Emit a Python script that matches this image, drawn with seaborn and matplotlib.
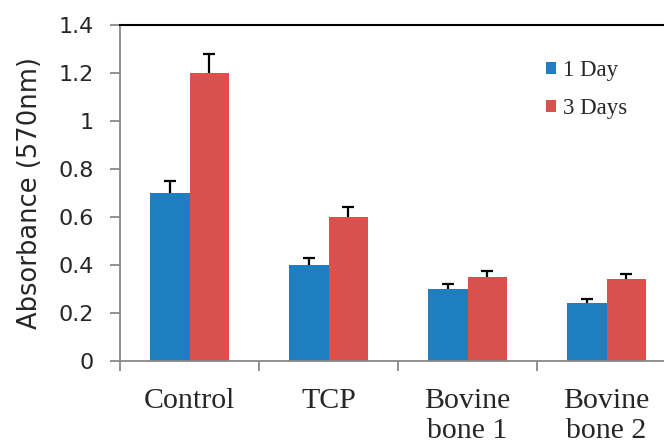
import matplotlib
matplotlib.use("Agg")
import matplotlib.pyplot as plt
import seaborn as sns
import pandas as pd
from matplotlib.patches import Patch

categories = ["Control", "TCP", "Bovine\nbone 1", "Bovine\nbone 2"]
series = ["1 Day", "3 Days"]
day1 = [0.70, 0.40, 0.30, 0.24]
day3 = [1.20, 0.60, 0.35, 0.34]
day1_err = [0.05, 0.03, 0.02, 0.02]
day3_err = [0.08, 0.04, 0.025, 0.022]
y_ticks = [0, 0.2, 0.4, 0.6, 0.8, 1.0, 1.2, 1.4]
y_tick_labels = ["0", "0.2", "0.4", "0.6", "0.8", "1", "1.2", "1.4"]

colors = {"1 Day": "#1F7EC0", "3 Days": "#DA504C"}

df = pd.DataFrame({
    "group": categories * 2,
    "time": [series[0]] * 4 + [series[1]] * 4,
    "value": day1 + day3,
})

sns.set_style("white")
fig = plt.figure(figsize=(6.64, 4.44), dpi=100)
ax = fig.add_axes([120 / 664, 83 / 444, 556 / 664, 336 / 444])

sns.barplot(data=df, x="group", y="value", hue="time", order=categories,
            hue_order=series, palette=colors, width=0.57, errorbar=None,
            saturation=1, edgecolor="none", ax=ax, legend=False)

# upper-only error bars on each bar
for container, errs in zip(ax.containers, [day1_err, day3_err]):
    for bar, e in zip(container, errs):
        xc = bar.get_x() + bar.get_width() / 2
        top = bar.get_height()
        _, caps, _ = ax.errorbar(xc, top, yerr=[[0], [e]], fmt="none",
                                 ecolor="black", elinewidth=1.6, capsize=4,
                                 capthick=1.6, zorder=3)
        caps[0].set_visible(False)

ax.set_ylim(0, 1.4)
ax.set_yticks(y_ticks)
ax.set_yticklabels(y_tick_labels, family="DejaVu Sans", fontsize=16)
ax.set_xlim(-0.5, 3.5)
ax.set_xticks(range(4))
ax.set_xticklabels(categories, family="Liberation Serif", fontsize=21.5,
                   linespacing=1.2, va="top")
ax.set_xticks([-0.5, 0.5, 1.5, 2.5, 3.5], minor=True)

ax.tick_params(axis="x", which="major", length=0, pad=19.5)
ax.tick_params(axis="x", which="minor", length=7, width=1.3, color="#888888",
               direction="out", bottom=True)
ax.tick_params(axis="y", length=7, width=1.3, color="#888888",
               direction="out", left=True, pad=12)

ax.set_xlabel("")
ax.set_ylabel("Absorbance (570nm)", family="DejaVu Sans", fontsize=18.5)
ax.yaxis.set_label_coords(-0.138, 0.5)

for side in ["left", "bottom"]:
    ax.spines[side].set_color("#888888")
    ax.spines[side].set_linewidth(1.3)
ax.spines["right"].set_visible(False)
ax.spines["top"].set_color("black")
ax.spines["top"].set_linewidth(1.5)

handles = [Patch(facecolor=colors[s], edgecolor="none", label=s) for s in series]
ax.legend(handles=handles, loc="upper left",
          bbox_to_anchor=((546 - 120) / 556, (361 - 60) / 336),
          frameon=False, prop={"family": "Liberation Serif", "size": 16.5},
          handlelength=0.45, handleheight=0.45, handletextpad=0.3,
          labelspacing=0.75, borderpad=0, borderaxespad=0)

fig.savefig("out.png", dpi=100)
